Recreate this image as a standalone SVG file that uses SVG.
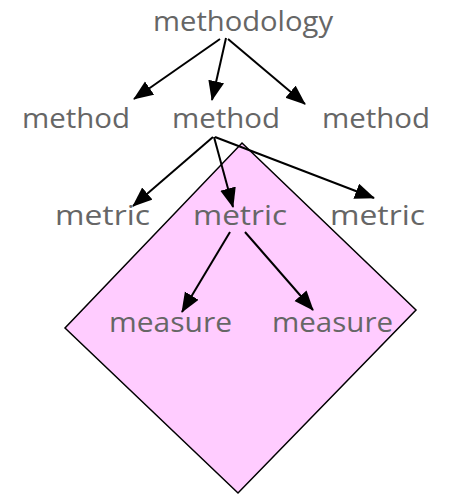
<svg xmlns="http://www.w3.org/2000/svg" width="451" height="495" viewBox="0 0 451 495">
<style>
text{font-family:"Comic Sans MS","Open Sans","DejaVu Sans",sans-serif;font-size:28px;fill:#666666}
.c line{stroke:#000;stroke-width:2;marker-end:url(#ah)}
</style>
<defs>
<marker id="ah" markerUnits="userSpaceOnUse" markerWidth="21" markerHeight="17" refX="19" refY="8" orient="auto">
<path d="M0,0 L20,8 L0,16 z" fill="#000"/>
</marker>
</defs>
<rect width="451" height="495" fill="#fff"/>
<g id="diamond"><polygon points="242,143 416,310 238,493 65,328" fill="#FFCCFF" stroke="#000" stroke-width="1.5"/></g>
<g class="c" id="connectors">
<line x1="220" y1="39" x2="134" y2="99"/>
<line x1="226" y1="38" x2="212" y2="100"/>
<line x1="228" y1="39" x2="305" y2="104"/>
<line x1="213" y1="137" x2="133" y2="206"/>
<line x1="214" y1="137" x2="233" y2="207"/>
<line x1="215" y1="137" x2="374" y2="198"/>
<line x1="230" y1="232" x2="182" y2="312"/>
<line x1="245" y1="232" x2="313" y2="310"/>
</g>
<g id="methodology"><text x="153" y="31" textLength="180" lengthAdjust="spacingAndGlyphs">methodology</text></g>
<g id="method1"><text x="22" y="128" textLength="108" lengthAdjust="spacingAndGlyphs">method</text></g>
<g id="method2"><text x="172" y="128" textLength="108" lengthAdjust="spacingAndGlyphs">method</text></g>
<g id="method3"><text x="322" y="128" textLength="108" lengthAdjust="spacingAndGlyphs">method</text></g>
<g id="metric1"><text x="55" y="225" textLength="95" lengthAdjust="spacingAndGlyphs">metric</text></g>
<g id="metric2"><text x="193" y="225" textLength="94" lengthAdjust="spacingAndGlyphs">metric</text></g>
<g id="metric3"><text x="330" y="225" textLength="95" lengthAdjust="spacingAndGlyphs">metric</text></g>
<g id="measure1"><text x="109" y="332" textLength="123" lengthAdjust="spacingAndGlyphs">measure</text></g>
<g id="measure2"><text x="272" y="332" textLength="121" lengthAdjust="spacingAndGlyphs">measure</text></g>
</svg>
